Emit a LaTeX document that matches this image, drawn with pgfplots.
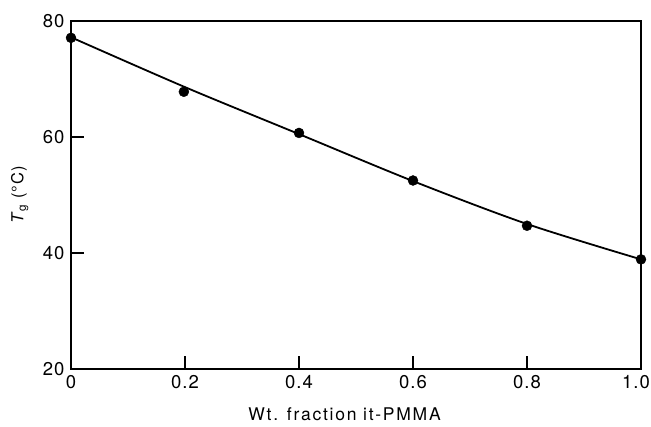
\documentclass[border=0pt]{standalone}
\usepackage{fontspec}
\setmainfont{TeX Gyre Heros}
\usepackage{pgfplots}
\pgfplotsset{compat=1.18}
\usetikzlibrary{calc}
\begin{document}
\begin{tikzpicture}
\begin{axis}[name=ax, at={(0,0)}, anchor=south west,
  scale only axis, width=570pt, height=348pt,
  xmin=0, xmax=1, ymin=20, ymax=80,
  xtick={0,0.2,0.4,0.6,0.8,1.0},
  xticklabels={0,0.2,0.4,0.6,0.8,\hspace*{-10pt}1.0},
  ytick={20,40,60,80},
  tick align=inside, major tick length=13pt,
  xtick pos=bottom, ytick pos=left,
  axis line style={line width=1.3pt},
  tick style={line width=1.2pt, black},
  tick label style={font=\fontsize{18.5}{21}\selectfont\addfontfeature{LetterSpace=6}},
  /pgf/number format/assume math mode=true,
  xticklabel style={yshift=-3pt},
  yticklabel style={xshift=-3pt},
  xlabel={Wt. fraction it-PMMA},
  ylabel={\textit{T}\textsubscript{g} (°C)},
  xlabel style={font=\fontsize{17.5}{20}\selectfont\addfontfeature{LetterSpace=10}, at={(axis description cs:0.48,-0.13)}, anchor=center},
  ylabel style={font=\fontsize{16.5}{19}\selectfont\addfontfeature{LetterSpace=6}, at={(axis description cs:-0.09,0.5)}, anchor=center},
  clip=false,
]
\addplot[black, line width=1.8pt, smooth, no marks] coordinates {
  (0,77.2) (0.2,68.6) (0.4,60.5) (0.6,52.4) (0.8,45.0) (1.0,38.9)
};
\addplot[only marks, mark=*, mark size=5pt, black] coordinates {
  (0,77.1) (0.198,67.8) (0.4,60.7) (0.6,52.5) (0.8,44.7) (1.0,38.9)
};
\end{axis}
\pgfresetboundingbox
\path ($(ax.south west)+(-71pt,-58pt)$) rectangle ($(ax.north east)+(10pt,21pt)$);
\end{tikzpicture}
\end{document}
